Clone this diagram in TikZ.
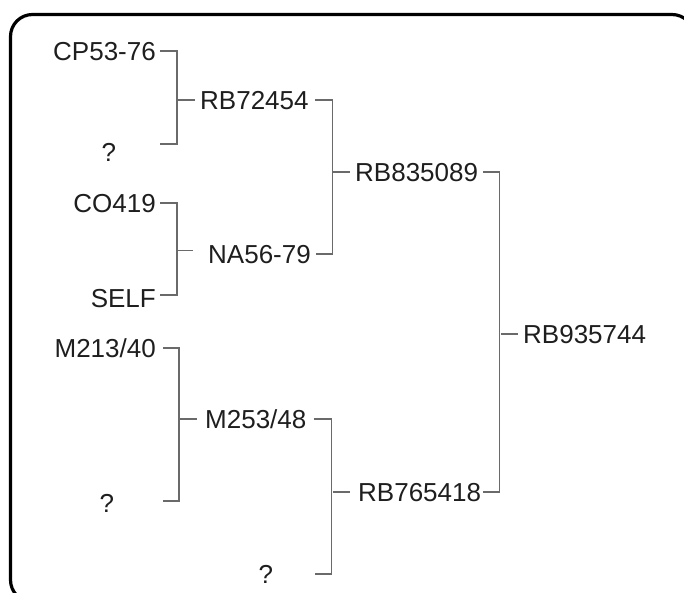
\documentclass[tikz,border=0pt]{standalone}
\usepackage{fontspec}
\setmainfont{Liberation Sans}
\usepackage{xcolor}
\usetikzlibrary{calc}

\definecolor{inkdark}{HTML}{1E1E1E}
\definecolor{linkgray}{HTML}{6A6A6A}

\begin{document}
\begin{tikzpicture}[
  x=1pt, y=-1pt,
  every node/.style={font=\fontsize{26}{30}\selectfont, text=inkdark},
  tag/.style={inner sep=0pt, text height=18.6pt, text depth=0pt},
  leaf/.style={tag, anchor=east},
  sire/.style={tag, anchor=west},
  unknown/.style={tag, anchor=east, align=center},
  link/.style={draw=linkgray, line width=1.2pt},
]
  \useasboundingbox (0,0) rectangle (684,592);
  \clip (0,0) rectangle (684,592);

  % frame
  \draw[line width=3.2pt, rounded corners=22pt] (10.5,14.5) rectangle (694,602);

  % first generation
  \node[leaf] (cp) at (156,51) {CP53-76};
  \node[unknown, minimum width=102pt] (qa) at (160,152) {?};
  \node[leaf] (co) at (156,203) {CO419};
  \node[leaf] (self) at (156,298) {SELF};
  \node[leaf] (mm) at (156,348) {M213/40};
  \node[unknown, minimum width=112pt] (qb) at (163,503) {?};

  % second generation
  \node[sire] (rba) at (200,100) {RB72454};
  \node[sire] (na) at (208,254) {NA56-79};
  \node[sire] (mb) at (205,419) {M253/48};
  \node[unknown, minimum width=98pt] (qc) at (315,574) {?};

  % third and fourth generation
  \node[sire] (rbb) at (355,172) {RB835089};
  \node[sire] (rbc) at (358,492) {RB765418};
  \node[sire] (rbd) at (523,334) {RB935744};

  % brackets
  \draw[link] ([xshift=4pt]cp.east) -- ++(17,0) |- ([yshift=8pt]qa.east);
  \draw[link] ([xshift=-5pt]rba.west) -- ++(-18,0);

  \draw[link] ([xshift=4pt]co.east) -- ++(17,0) |- ([xshift=4pt,yshift=3pt]self.east);
  \draw[link] ($(co.east)!.5!(self.east)$) ++(21,0) -- ++(16,0);

  \draw[link] ([xshift=7pt]mm.east) -- ++(16,0) |- ([yshift=2pt]qb.east);
  \draw[link] ([xshift=-8pt]mb.west) -- ++(-18,0);

  \draw[link] ([xshift=6pt]rba.east) -- ++(18,0) |- ([xshift=5pt]na.east);
  \draw[link] ([xshift=-5pt]rbb.west) -- ++(-17,0);

  \draw[link] ([xshift=7pt]mb.east) -- ++(18,0) |- (qc.east);
  \draw[link] ([xshift=-8pt]rbc.west) -- ++(-17,0);

  \draw[link] ([xshift=5pt]rbb.east) -- ++(16,0) |- ([xshift=2pt]rbc.east);
  \draw[link] ([xshift=-5pt]rbd.west) -- ++(-17,0);

\end{tikzpicture}
\end{document}
